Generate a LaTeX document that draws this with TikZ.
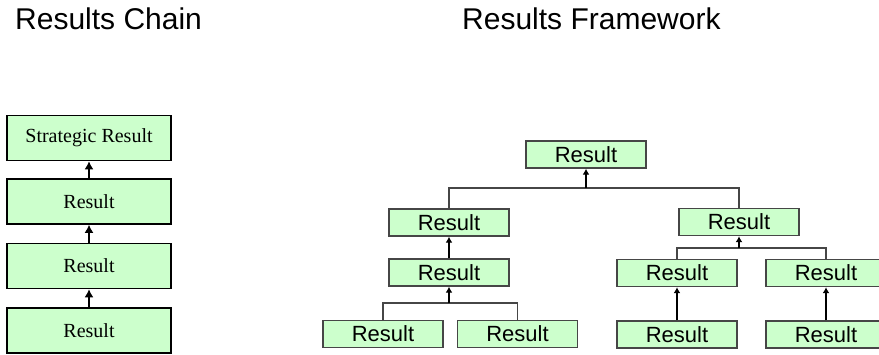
\documentclass[tikz,border=0pt]{standalone}
\usepackage{fontspec}
\usepackage{tikz}
\usetikzlibrary{arrows.meta,calc}
\setmainfont{Liberation Serif}
\newfontfamily\arialfont{Liberation Sans}
\definecolor{resgreen}{RGB}{204,255,204}
\definecolor{linegray}{RGB}{70,70,70}
\newcommand{\fwWidth}[0]{120pt}

\begin{document}
\begin{tikzpicture}[x=1pt, y=-1pt]
  \tikzset{title/.style={anchor=base west,inner sep=0pt,font=\arialfont\fontsize{30}{32}\selectfont},
           chainbox/.style={draw,line width=1.5pt,fill=resgreen,minimum width=164pt,minimum height=45pt,
                            inner sep=0pt,font=\fontsize{20}{22}\selectfont},
           fwbox/.style={draw=linegray,line width=1.4pt,fill=resgreen,minimum width=\fwWidth,minimum height=27pt,
                         inner sep=0pt,font=\arialfont\fontsize{22}{24}\selectfont},
           up/.style={line width=1.6pt,-{Latex[length=6pt,width=7pt]}},
           chainup/.style={line width=2pt,-{Latex[length=8pt,width=9pt]}},
           conn/.style={draw=linegray,line width=1.4pt}}
  \clip (0,0) rectangle (879,354);
  \fill[white] (0,0) rectangle (879,354);
  \node[title] (tchain) at (15,29) {Results Chain};
  \node[title] (tframe) at (462,29) {Results Framework};
  % results chain
  \node[chainbox] (c1) at (89,138) {Strategic Result};
  \node[chainbox] (c2) at (89,201.5) {Result};
  \node[chainbox] (c3) at (89,266) {Result};
  \node[chainbox] (c4) at (89,330.5) {Result};
  \draw[chainup] (c2.north) -- (c1.south);
  \draw[chainup] (c3.north) -- (c2.south);
  \draw[chainup] (c4.north) -- (c3.south);
  % results framework
  \node[fwbox] (top) at (586,154.5) {Result};
  \node[fwbox] (left) at (449,222.5) {Result};
  \node[fwbox] (right) at (739,222) {Result};
  \node[fwbox] (leftmid) at (449,272.5) {Result};
  \node[fwbox] (rightl) at (677,273) {Result};
  \node[fwbox] (rightr) at (826,273) {Result};
  \node[fwbox] (lowa) at (383,334) {Result};
  \node[fwbox] (lowb) at (517.5,334) {Result};
  \node[fwbox] (lowc) at (677,334.5) {Result};
  \node[fwbox] (lowd) at (826,334.5) {Result};
  \coordinate (jtop) at (586,188);
  \coordinate (jleft) at (449,303);
  \coordinate (jright) at (739,248);
  \draw[conn] (left.north) |- (jtop) -| (right.north);
  \draw[conn] (lowa.north) |- (jleft) -| (lowb.north);
  \draw[conn] (rightl.north) |- (jright) -| (rightr.north);
  \draw[up] (jtop) -- (top.south);
  \draw[up] (jleft) -- (leftmid.south);
  \draw[up] (jright) -- (right.south);
  \draw[up] (leftmid.north) -- (left.south);
  \draw[up] (lowc.north) -- (rightl.south);
  \draw[up] (lowd.north) -- (rightr.south);
\end{tikzpicture}
\end{document}
